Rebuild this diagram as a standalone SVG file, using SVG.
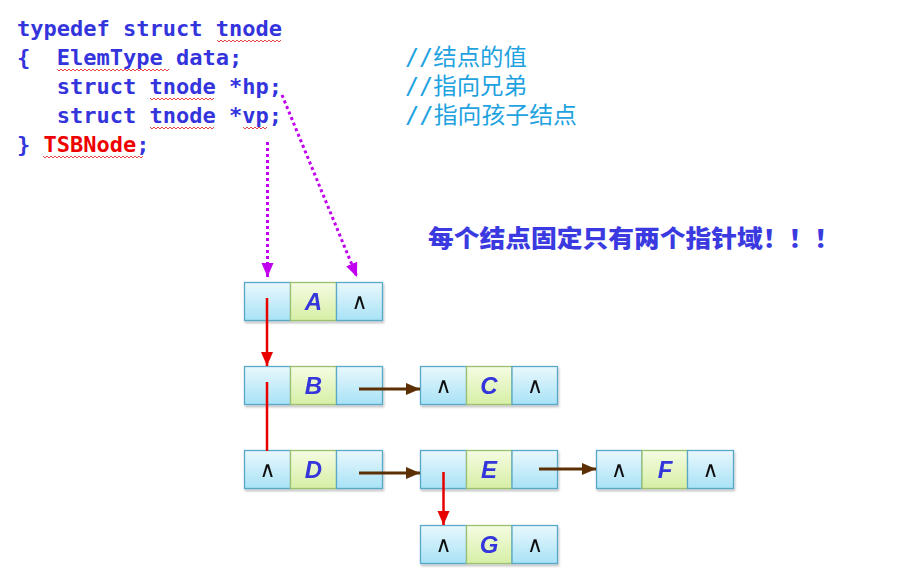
<svg xmlns="http://www.w3.org/2000/svg" width="901" height="588" viewBox="0 0 901 588">
<defs>
<linearGradient id="gb" x1="0" y1="0" x2="0" y2="1">
<stop offset="0" stop-color="#e9f8fd"/>
<stop offset="1" stop-color="#a8e2f6"/>
</linearGradient>
<linearGradient id="gg" x1="0" y1="0" x2="0" y2="1">
<stop offset="0" stop-color="#f5fce2"/>
<stop offset="1" stop-color="#d6efa6"/>
</linearGradient>
<filter id="sh" x="-10%" y="-10%" width="130%" height="140%">
<feDropShadow dx="1" dy="2" stdDeviation="1.2" flood-color="#000" flood-opacity="0.25"/>
</filter>
<marker id="mr" markerUnits="userSpaceOnUse" markerWidth="16" markerHeight="16" refX="14" refY="6" orient="auto" viewBox="0 0 16 12">
<path d="M0,0 L14,6 L0,12 Z" fill="#e80000"/>
</marker>
<marker id="mb" markerUnits="userSpaceOnUse" markerWidth="16" markerHeight="16" refX="14" refY="6" orient="auto" viewBox="0 0 16 12">
<path d="M0,0 L14,6 L0,12 Z" fill="#5c3004"/>
</marker>
<marker id="mm" markerUnits="userSpaceOnUse" markerWidth="16" markerHeight="16" refX="14" refY="6" orient="auto" viewBox="0 0 16 12">
<path d="M0,0 L14,6 L0,12 Z" fill="#c000ee"/>
</marker>
</defs>
<style>
.code{font-family:"DejaVu Sans Mono","Liberation Mono",monospace;font-weight:bold;font-size:22px;fill:#3434dc}
.red{fill:#ee0000}
.cmt{font-family:"DejaVu Sans Mono","Noto Sans CJK SC",monospace;font-size:23px;fill:#1ea2e0}
.head{font-family:"Noto Sans CJK SC","Noto Sans",sans-serif;font-weight:900;font-size:24px;fill:#3a3ae0}
.cb{fill:url(#gb);stroke:#5aa8c8;stroke-width:1.3}
.cg{fill:url(#gg);stroke:#9cbf70;stroke-width:1.3}
.lbl{font-family:"Liberation Sans","Noto Sans",sans-serif;font-weight:bold;font-style:italic;font-size:24px;fill:#3434dc;text-anchor:middle}
.nil{font-family:"Liberation Sans","DejaVu Sans",sans-serif;font-size:22px;fill:#111;text-anchor:middle}
.wave{fill:none;stroke:#e03030;stroke-width:0.9}
.vr{stroke:#e80000;stroke-width:2.5;fill:none}
.hb{stroke:#5c3004;stroke-width:3;fill:none}
.dm{stroke:#c000ee;stroke-width:3;fill:none;stroke-dasharray:3 3}
</style>

<g id="code">
<text class="code" x="17" y="36">typedef struct tnode</text>
<text class="code" x="17" y="65" xml:space="preserve">{  ElemType data;</text>
<text class="code" x="17" y="94" xml:space="preserve">   struct tnode *hp;</text>
<text class="code" x="17" y="123" xml:space="preserve">   struct tnode *vp;</text>
<text class="code" x="17" y="152">} <tspan class="red">TSBNode</tspan>;</text>
<text class="cmt" x="405" y="65" textLength="122" lengthAdjust="spacingAndGlyphs">//结点的值</text>
<text class="cmt" x="405" y="94" textLength="122" lengthAdjust="spacingAndGlyphs">//指向兄弟</text>
<text class="cmt" x="405" y="123" textLength="172" lengthAdjust="spacingAndGlyphs">//指向孩子结点</text>
<path class="wave" d="M217,40 l2,2 l2,-2 l2,2 l2,-2 l2,2 l2,-2 l2,2 l2,-2 l2,2 l2,-2 l2,2 l2,-2 l2,2 l2,-2 l2,2 l2,-2 l2,2 l2,-2 l2,2 l2,-2 l2,2 l2,-2 l2,2 l2,-2 l2,2 l2,-2 l2,2 l2,-2 l2,2 l2,-2 l2,2 l2,-2"/>
<path class="wave" d="M57,69 l2,2 l2,-2 l2,2 l2,-2 l2,2 l2,-2 l2,2 l2,-2 l2,2 l2,-2 l2,2 l2,-2 l2,2 l2,-2 l2,2 l2,-2 l2,2 l2,-2 l2,2 l2,-2 l2,2 l2,-2 l2,2 l2,-2 l2,2 l2,-2 l2,2 l2,-2 l2,2 l2,-2 l2,2 l2,-2 l2,2 l2,-2 l2,2 l2,-2 l2,2 l2,-2 l2,2 l2,-2 l2,2 l2,-2 l2,2 l2,-2 l2,2 l2,-2 l2,2 l2,-2 l2,2 l2,-2 l2,2 l2,-2 l2,2 l2,-2 l2,2 l2,-2"/>
<path class="wave" d="M150,98 l2,2 l2,-2 l2,2 l2,-2 l2,2 l2,-2 l2,2 l2,-2 l2,2 l2,-2 l2,2 l2,-2 l2,2 l2,-2 l2,2 l2,-2 l2,2 l2,-2 l2,2 l2,-2 l2,2 l2,-2 l2,2 l2,-2 l2,2 l2,-2 l2,2 l2,-2 l2,2 l2,-2 l2,2 l2,-2"/>
<path class="wave" d="M150,127 l2,2 l2,-2 l2,2 l2,-2 l2,2 l2,-2 l2,2 l2,-2 l2,2 l2,-2 l2,2 l2,-2 l2,2 l2,-2 l2,2 l2,-2 l2,2 l2,-2 l2,2 l2,-2 l2,2 l2,-2 l2,2 l2,-2 l2,2 l2,-2 l2,2 l2,-2 l2,2 l2,-2 l2,2 l2,-2"/>
<path class="wave" d="M243,127 l2,2 l2,-2 l2,2 l2,-2 l2,2 l2,-2 l2,2 l2,-2 l2,2 l2,-2 l2,2 l2,-2"/>
<path class="wave" d="M43,156 l2,2 l2,-2 l2,2 l2,-2 l2,2 l2,-2 l2,2 l2,-2 l2,2 l2,-2 l2,2 l2,-2 l2,2 l2,-2 l2,2 l2,-2 l2,2 l2,-2 l2,2 l2,-2 l2,2 l2,-2 l2,2 l2,-2 l2,2 l2,-2 l2,2 l2,-2 l2,2 l2,-2 l2,2 l2,-2 l2,2 l2,-2 l2,2 l2,-2 l2,2 l2,-2 l2,2 l2,-2 l2,2 l2,-2 l2,2 l2,-2 l2,2 l2,-2 l2,2 l2,-2 l2,2 l2,-2"/>
</g>

<text id="note" class="head" x="428" y="247" textLength="412" lengthAdjust="spacingAndGlyphs">每个结点固定只有两个指针域！！！</text>

<g id="nodeA" filter="url(#sh)">
<rect class="cb" x="244.5" y="282.5" width="46" height="38"/>
<rect class="cg" x="290.5" y="282.5" width="46" height="38"/>
<rect class="cb" x="336.5" y="282.5" width="46" height="38"/>
<text class="lbl" x="313.5" y="310">A</text>
<text class="nil" x="359.5" y="309">∧</text>
</g>
<g id="nodeB" filter="url(#sh)">
<rect class="cb" x="244.5" y="366.5" width="46" height="38"/>
<rect class="cg" x="290.5" y="366.5" width="46" height="38"/>
<rect class="cb" x="336.5" y="366.5" width="46" height="38"/>
<text class="lbl" x="313.5" y="394">B</text>
</g>
<g id="nodeC" filter="url(#sh)">
<rect class="cb" x="420.5" y="366.5" width="46" height="38"/>
<rect class="cg" x="466.5" y="366.5" width="45.5" height="38"/>
<rect class="cb" x="512" y="366.5" width="45.5" height="38"/>
<text class="nil" x="443.5" y="393">∧</text>
<text class="lbl" x="489" y="394">C</text>
<text class="nil" x="535" y="393">∧</text>
</g>
<g id="nodeD" filter="url(#sh)">
<rect class="cb" x="244.5" y="450.5" width="46" height="38"/>
<rect class="cg" x="290.5" y="450.5" width="46" height="38"/>
<rect class="cb" x="336.5" y="450.5" width="46" height="38"/>
<text class="nil" x="267.5" y="477">∧</text>
<text class="lbl" x="313.5" y="478">D</text>
</g>
<g id="nodeE" filter="url(#sh)">
<rect class="cb" x="420.5" y="450.5" width="46" height="38"/>
<rect class="cg" x="466.5" y="450.5" width="45.5" height="38"/>
<rect class="cb" x="512" y="450.5" width="45.5" height="38"/>
<text class="lbl" x="489" y="478">E</text>
</g>
<g id="nodeF" filter="url(#sh)">
<rect class="cb" x="596.5" y="450.5" width="45.5" height="38"/>
<rect class="cg" x="642" y="450.5" width="45.5" height="38"/>
<rect class="cb" x="687.5" y="450.5" width="46" height="38"/>
<text class="nil" x="619" y="477">∧</text>
<text class="lbl" x="665" y="478">F</text>
<text class="nil" x="710.5" y="477">∧</text>
</g>
<g id="nodeG" filter="url(#sh)">
<rect class="cb" x="420.5" y="525.5" width="46" height="38"/>
<rect class="cg" x="466.5" y="525.5" width="45.5" height="38"/>
<rect class="cb" x="512" y="525.5" width="45.5" height="38"/>
<text class="nil" x="443.5" y="552">∧</text>
<text class="lbl" x="489" y="553">G</text>
<text class="nil" x="535" y="552">∧</text>
</g>

<g id="connectors">
<line class="dm" x1="267.5" y1="142" x2="267.5" y2="277" marker-end="url(#mm)"/>
<line class="dm" x1="282" y1="95" x2="357" y2="277" marker-end="url(#mm)"/>
<line class="vr" x1="267" y1="298" x2="267" y2="366" marker-end="url(#mr)"/>
<line class="vr" x1="267" y1="382" x2="267" y2="451"/>
<line class="vr" x1="443.5" y1="472" x2="443.5" y2="525" marker-end="url(#mr)"/>
<line class="hb" x1="359" y1="389" x2="420" y2="389" marker-end="url(#mb)"/>
<line class="hb" x1="359" y1="473" x2="420" y2="473" marker-end="url(#mb)"/>
<line class="hb" x1="539" y1="469" x2="596" y2="469" marker-end="url(#mb)"/>
</g>
</svg>
